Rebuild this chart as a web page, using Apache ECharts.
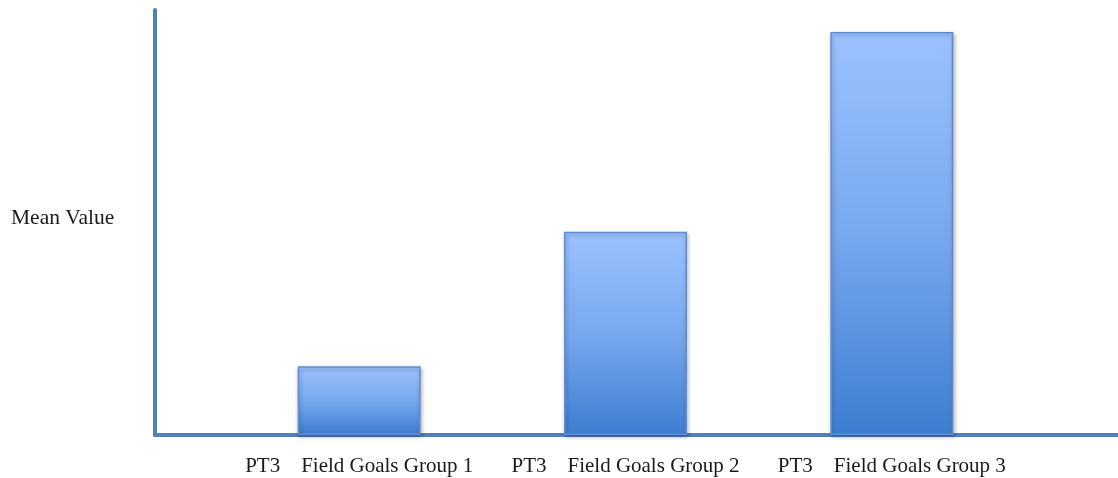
<!DOCTYPE html>
<html>
<head>
<meta charset="utf-8">
<script src="https://cdn.jsdelivr.net/npm/echarts@6/dist/echarts.min.js"></script>
<style>
html,body{margin:0;padding:0;background:#fff;}
#chart{width:1118px;height:478px;}
</style>
</head>
<body>
<div id="chart"></div>
<script>
var categories = ['PT3    Field Goals Group 1', 'PT3    Field Goals Group 2', 'PT3    Field Goals Group 3'];
var meanValues = [16.2, 47.8, 94.8];
var yAxisTitle = 'Mean Value';

var chart = echarts.init(document.getElementById('chart'));
var font = '"Liberation Serif", "Times New Roman", serif';
var axisColor = '#4f81bd';

chart.setOption({
  animation: false,
  backgroundColor: '#ffffff',
  title: {
    text: yAxisTitle,
    left: 6,
    top: 202,
    textStyle: { color: '#1a1a1a', fontFamily: font, fontSize: 21.5, fontWeight: 'normal' }
  },
  grid: [
    { left: 155, right: 0, top: 10, bottom: 43 },
    { left: 226, right: 93, top: 10, bottom: 43 }
  ],
  xAxis: [
    { type: 'value', gridIndex: 0, min: 0, max: 1,
      axisLine: { show: true, lineStyle: { color: axisColor, width: 4 } },
      axisTick: { show: false }, axisLabel: { show: false }, splitLine: { show: false } },
    { type: 'category', gridIndex: 1, data: categories,
      axisLine: { show: false }, axisTick: { show: false }, splitLine: { show: false },
      axisLabel: { color: '#1a1a1a', fontFamily: font, fontSize: 21, margin: 21,
                   interval: 0, hideOverlap: false } }
  ],
  yAxis: [
    { type: 'value', gridIndex: 0, min: 0, max: 1,
      axisLine: { show: true, lineStyle: { color: axisColor, width: 4 } },
      axisTick: { show: false }, axisLabel: { show: false }, splitLine: { show: false } },
    { type: 'value', gridIndex: 1, min: 0, max: 100, show: false }
  ],
  series: [{
    type: 'bar',
    xAxisIndex: 1,
    yAxisIndex: 1,
    data: meanValues,
    barWidth: 123,
    itemStyle: {
      color: new echarts.graphic.LinearGradient(0, 0, 0, 1, [
        { offset: 0, color: '#9bc2ff' },
        { offset: 0.5, color: '#78a8ee' },
        { offset: 1, color: '#3d7ed0' }
      ]),
      borderColor: '#5f8fd3',
      borderWidth: 1.5,
      shadowBlur: 4,
      shadowColor: 'rgba(0,0,0,0.3)',
      shadowOffsetX: 1,
      shadowOffsetY: 2
    }
  }]
});
</script>
</body>
</html>
